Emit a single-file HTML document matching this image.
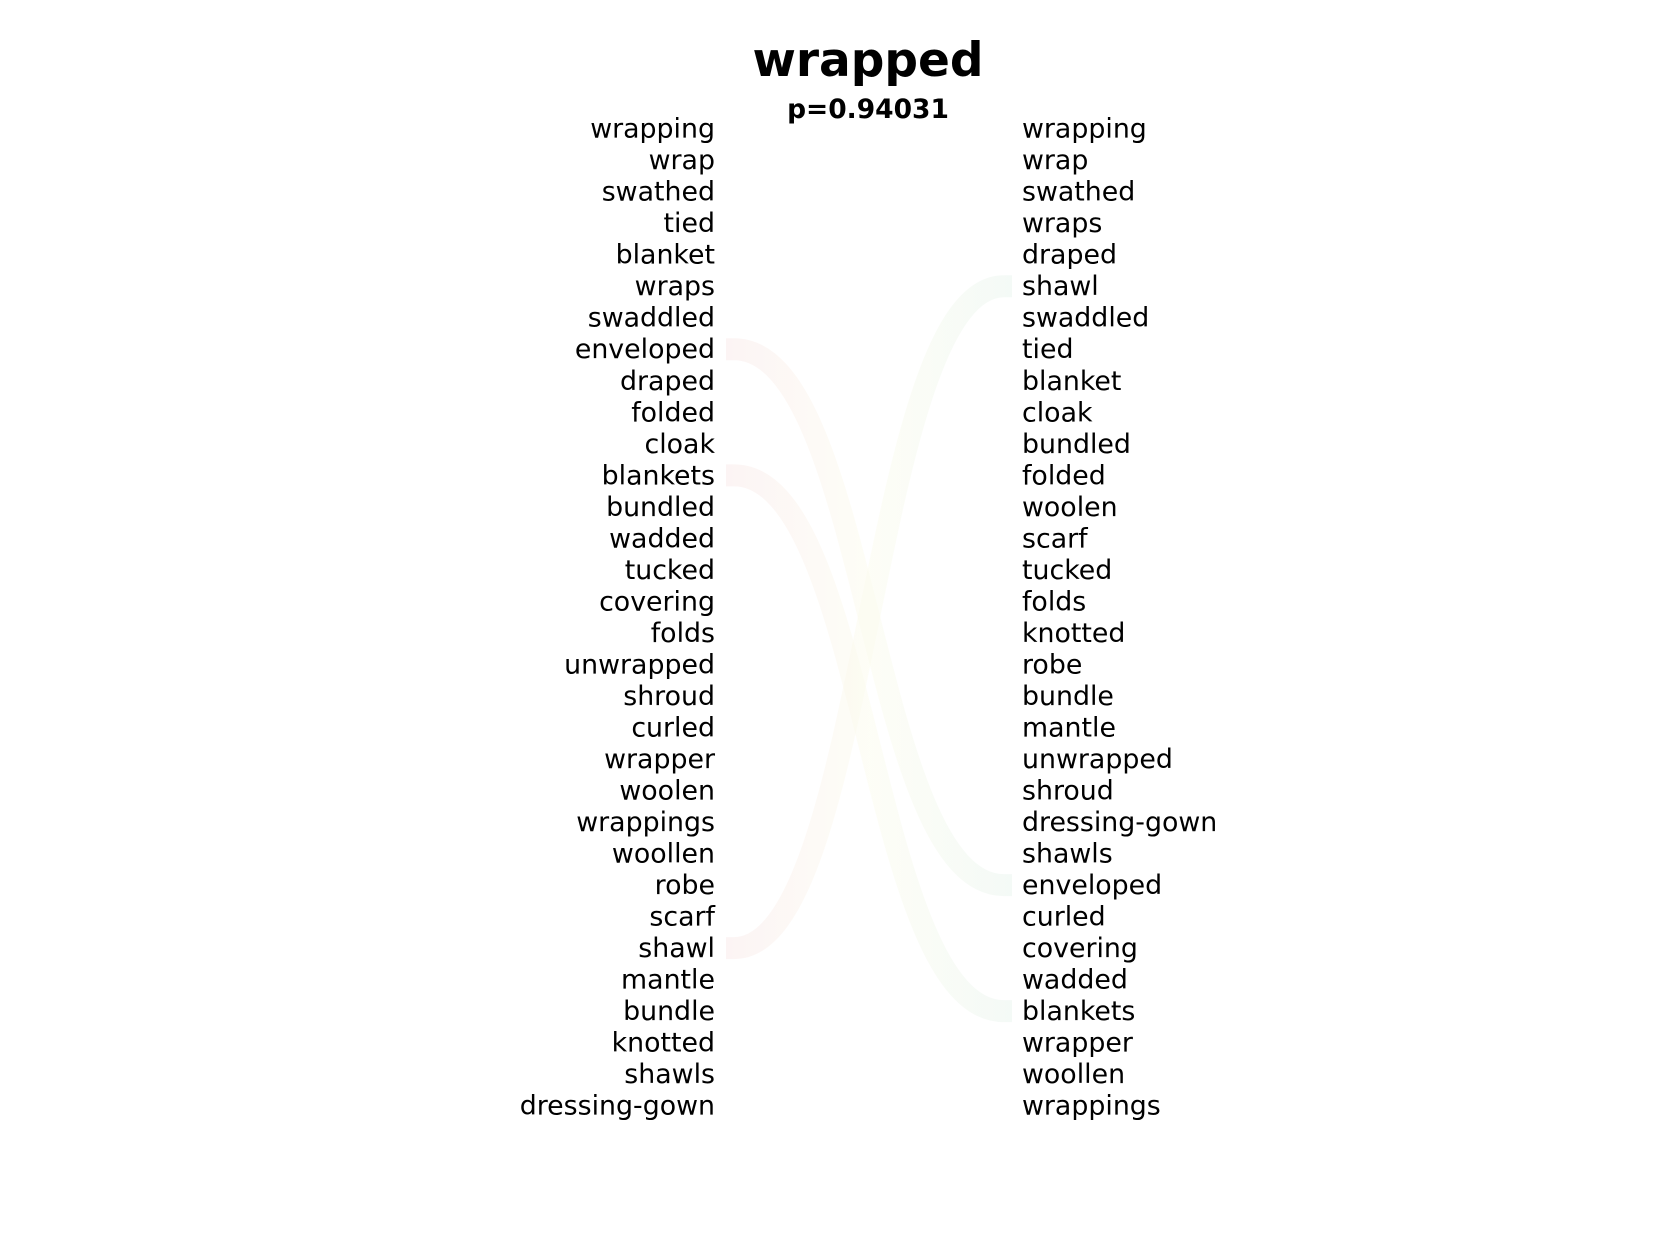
<!DOCTYPE html>
<html><head><meta charset="utf-8"><style>
html,body{margin:0;padding:0;background:#fff}
svg{display:block}
text{font-family:"DejaVu Sans","Liberation Sans",sans-serif;fill:#000}
</style></head><body>
<svg id="chart" width="1680" height="1260" viewBox="0 0 1680 1260">
<defs>
<linearGradient id="g" x1="0" x2="1" y1="0" y2="0">
<stop offset="0" stop-color="#f8e4e4"/><stop offset="0.5" stop-color="#fbfbea"/><stop offset="1" stop-color="#e4f2ea"/>
</linearGradient>
</defs>
<g id="links"></g>
<text x="868" y="76" text-anchor="middle" font-size="47" font-weight="bold">wrapped</text>
<text x="868" y="118" text-anchor="middle" font-size="26.5" font-weight="bold">p=0.94031</text>
<g id="left"></g>
<g id="right"></g>
</svg>
<script>
const leftWords=["wrapping","wrap","swathed","tied","blanket","wraps","swaddled","enveloped","draped","folded","cloak","blankets","bundled","wadded","tucked","covering","folds","unwrapped","shroud","curled","wrapper","woolen","wrappings","woollen","robe","scarf","shawl","mantle","bundle","knotted","shawls","dressing-gown"];
const rightWords=["wrapping","wrap","swathed","wraps","draped","shawl","swaddled","tied","blanket","cloak","bundled","folded","woolen","scarf","tucked","folds","knotted","robe","bundle","mantle","unwrapped","shroud","dressing-gown","shawls","enveloped","curled","covering","wadded","blankets","wrapper","woollen","wrappings"];
const linkedWords=["enveloped","blankets","shawl"];
const NS="http://www.w3.org/2000/svg";
const y0=128.6, dy=31.52, xl=715, xr=1022;
const yRow=i=>y0+i*dy;
const L=document.getElementById('left'),R=document.getElementById('right'),K=document.getElementById('links');
leftWords.forEach((w,i)=>{const t=document.createElementNS(NS,'text');


t.setAttribute('x',xl);t.setAttribute('y',yRow(i)+9);t.setAttribute('text-anchor','end');t.setAttribute('font-size','26.8');t.textContent=w;L.appendChild(t);});
rightWords.forEach((w,i)=>{const t=document.createElementNS(NS,'text');


t.setAttribute('x',xr);t.setAttribute('y',yRow(i)+9);t.setAttribute('font-size','26.8');t.textContent=w;R.appendChild(t);});
linkedWords.forEach(w=>{const a=yRow(leftWords.indexOf(w)),b=yRow(rightWords.indexOf(w));
const x1=726,x2=1012,m=(x1+x2)/2;
const p=document.createElementNS(NS,'path');


p.setAttribute('d',`M${x1},${a} L${x1+8},${a} C${m},${a} ${m},${b} ${x2-8},${b} L${x2},${b}`);
p.setAttribute('fill','none');p.setAttribute('stroke','url(#g)');p.setAttribute('stroke-width','22');p.setAttribute('opacity','0.4');
K.appendChild(p);});
</script>
</body></html>
